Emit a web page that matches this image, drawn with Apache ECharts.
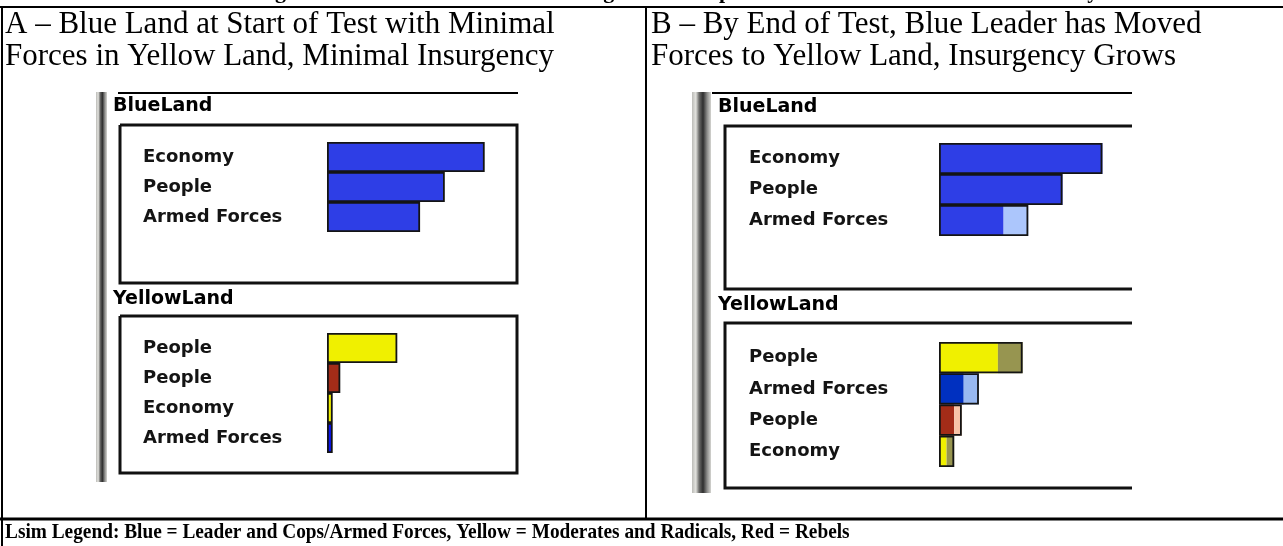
<!DOCTYPE html>
<html><head><meta charset="utf-8">
<script src="https://cdn.jsdelivr.net/npm/echarts@6/dist/echarts.min.js"></script>
<style>html,body{margin:0;padding:0;background:#fff}#c{width:1283px;height:546px}</style>
</head><body><div id="c"></div><script>
// ---- data (relative strength, 0-100 scale) ----
const blueACats = ['Economy', 'People', 'Armed Forces'];
const blueAValues = [83, 62, 49];
const yellowACats = ['People', 'People', 'Economy', 'Armed Forces'];
const yellowAValues = [37, 7, 3, 3];
const blueBCats = ['Economy', 'People', 'Armed Forces'];
const blueBBase = [86, 65, 34];
const blueBExtra = [0, 0, 13];
const yellowBCats = ['People', 'Armed Forces', 'People', 'Economy'];
const yellowBBase = [31, 13, 8, 4];
const yellowBExtra = [13, 8, 4, 4];

const titleA = ['A \u2013 Blue Land at Start of Test with Minimal', 'Forces in Yellow Land, Minimal Insurgency'];
const titleB = ['B \u2013 By End of Test, Blue Leader has Moved', 'Forces to Yellow Land, Insurgency Grows'];
const legendText = 'Lsim Legend: Blue = Leader and Cops/Armed Forces, Yellow = Moderates and Radicals, Red = Rebels';
const figureCaption = "Figure 6: Start and End States During the Correspondence Test: Leader's Lsim Summary View";
const landNames = ['BlueLand', 'YellowLand'];

// ---- styles ----
const BLUE = '#2e3ee6', YEL = '#f0f000', RED = '#a32c18', PURE_BLUE = '#0a14f0';
const blueAColors = [BLUE, BLUE, BLUE];
const yellowAColors = [YEL, RED, YEL, PURE_BLUE];
const blueBBaseColors = [BLUE, BLUE, BLUE];
const blueBExtraColors = ['#acc6fc', '#acc6fc', '#acc6fc'];
const yellowBBaseColors = [YEL, '#0030c0', RED, YEL];
const yellowBExtraColors = ['#979550', '#98b8f0', '#f8c4a8', '#979550'];
const EDGE = '#141414';

const chart = echarts.init(document.getElementById('c'), null, {renderer: 'canvas'});

const grids = [
  {left: 327, top: 142, width: 190, height: 90},
  {left: 327, top: 333, width: 190, height: 120},
  {left: 939, top: 143, width: 190, height: 93},
  {left: 939, top: 342, width: 190, height: 125}
];
const catSets = [blueACats, yellowACats, blueBCats, yellowBCats];
const margins = [184, 184, 190, 190];

const xAxes = grids.map((g, i) => ({gridIndex: i, type: 'value', min: 0, max: 100, show: false}));
const yAxes = grids.map((g, i) => ({
  gridIndex: i, type: 'category', inverse: true, data: catSets[i],
  axisLine: {show: false}, axisTick: {show: false}, splitLine: {show: false},
  axisLabel: {align: 'left', margin: margins[i], fontFamily: 'DejaVu Sans', fontWeight: 'bold', fontSize: 18, color: '#141414'}
}));

function items(vals, cols) { return vals.map((v, k) => ({value: v, itemStyle: {color: cols[k]}})); }
function sum(a, b) { return a.map((v, k) => v + b[k]); }

const series = [
  {type: 'bar', xAxisIndex: 0, yAxisIndex: 0, barCategoryGap: '0%', data: items(blueAValues, blueAColors),
   itemStyle: {borderColor: EDGE, borderWidth: 1.8}, silent: true},
  {type: 'bar', xAxisIndex: 1, yAxisIndex: 1, barCategoryGap: '0%', data: items(yellowAValues, yellowAColors),
   itemStyle: {borderColor: EDGE, borderWidth: 1.8}, silent: true},
  // B blue land: stacked segments + outline
  {type: 'bar', xAxisIndex: 2, yAxisIndex: 2, stack: 'bb', barCategoryGap: '0%', barGap: '-100%', data: items(blueBBase, blueBBaseColors), silent: true},
  {type: 'bar', xAxisIndex: 2, yAxisIndex: 2, stack: 'bb', barCategoryGap: '0%', barGap: '-100%', data: items(blueBExtra, blueBExtraColors), silent: true},
  {type: 'bar', xAxisIndex: 2, yAxisIndex: 2, barCategoryGap: '0%', barGap: '-100%', data: sum(blueBBase, blueBExtra),
   itemStyle: {color: 'rgba(0,0,0,0)', borderColor: EDGE, borderWidth: 1.8}, z: 3, silent: true},
  // B yellow land
  {type: 'bar', xAxisIndex: 3, yAxisIndex: 3, stack: 'yb', barCategoryGap: '0%', barGap: '-100%', data: items(yellowBBase, yellowBBaseColors), silent: true},
  {type: 'bar', xAxisIndex: 3, yAxisIndex: 3, stack: 'yb', barCategoryGap: '0%', barGap: '-100%', data: items(yellowBExtra, yellowBExtraColors), silent: true},
  {type: 'bar', xAxisIndex: 3, yAxisIndex: 3, barCategoryGap: '0%', barGap: '-100%', data: sum(yellowBBase, yellowBExtra),
   itemStyle: {color: 'rgba(0,0,0,0)', borderColor: EDGE, borderWidth: 1.8}, z: 3, silent: true}
];

const SERIF = '"Liberation Serif", "Times New Roman", serif';
function txt(t, x, y, font, sx, align) {
  return {type: 'text', silent: true, x: x, y: y, scaleX: sx || 1,
    style: {text: t, x: 0, y: 0, font: font, fill: '#000', verticalAlign: 'middle', align: align || 'left'}};
}
function line(x1, y1, x2, y2, w) {
  return {type: 'line', silent: true, shape: {x1, y1, x2, y2}, style: {stroke: '#000', lineWidth: w}};
}
function poly(pts, w) {
  return {type: 'polyline', silent: true, shape: {points: pts}, style: {stroke: '#111', lineWidth: w, fill: null}};
}
function grayBar(x, y, w, h) {
  return {type: 'rect', silent: true, shape: {x, y, width: w, height: h},
    style: {fill: new echarts.graphic.LinearGradient(0, 0, 1, 0, [
      {offset: 0, color: '#bcbcb8'}, {offset: 0.2, color: '#e2e2de'}, {offset: 0.38, color: '#6a6a68'},
      {offset: 0.58, color: '#2e2e2e'}, {offset: 0.8, color: '#8e8e8c'}, {offset: 1, color: '#d4d4d0'}])}};
}
const LANDFONT = 'bold 19px "DejaVu Sans"';
const graphic = [
  // caption cut off at top
  txt(figureCaption, 703, -8, 'bold 22px ' + SERIF, 1, 'center'),
  // table lines
  line(0, 7, 1283, 7, 2),
  line(2, 7, 2, 546, 2),
  line(646, 7, 646, 519, 2),
  line(0, 519, 1283, 519, 3),
  // titles
  txt(titleA[0], 5, 25, '31px ' + SERIF),
  txt(titleA[1], 5, 57, '31px ' + SERIF),
  txt(titleB[0], 651, 25, '31px ' + SERIF),
  txt(titleB[1], 651, 57, '31px ' + SERIF),
  txt(legendText, 5, 533, 'bold 21px ' + SERIF, 0.92),
  // panel A screenshot frame
  grayBar(96, 92, 11, 390),
  line(118, 93, 518, 93, 2),
  txt(landNames[0], 113, 106, LANDFONT),
  poly([[120, 125], [517, 125], [517, 283], [120, 283], [120, 125]], 3),
  txt(landNames[1], 113, 299, LANDFONT),
  poly([[120, 316], [517, 316], [517, 473], [120, 473], [120, 316]], 3),
  // panel B screenshot frame
  grayBar(692, 92, 19, 401),
  line(712, 93, 1132, 93, 2),
  txt(landNames[0], 718, 107, LANDFONT),
  poly([[1132, 126], [725, 126], [725, 289], [1132, 289]], 3),
  txt(landNames[1], 718, 305, LANDFONT),
  poly([[1132, 323], [725, 323], [725, 488], [1132, 488]], 3)
];

chart.setOption({
  animation: false,
  backgroundColor: '#fff',
  grid: grids,
  xAxis: xAxes,
  yAxis: yAxes,
  series: series,
  graphic: graphic
});
</script></body></html>
